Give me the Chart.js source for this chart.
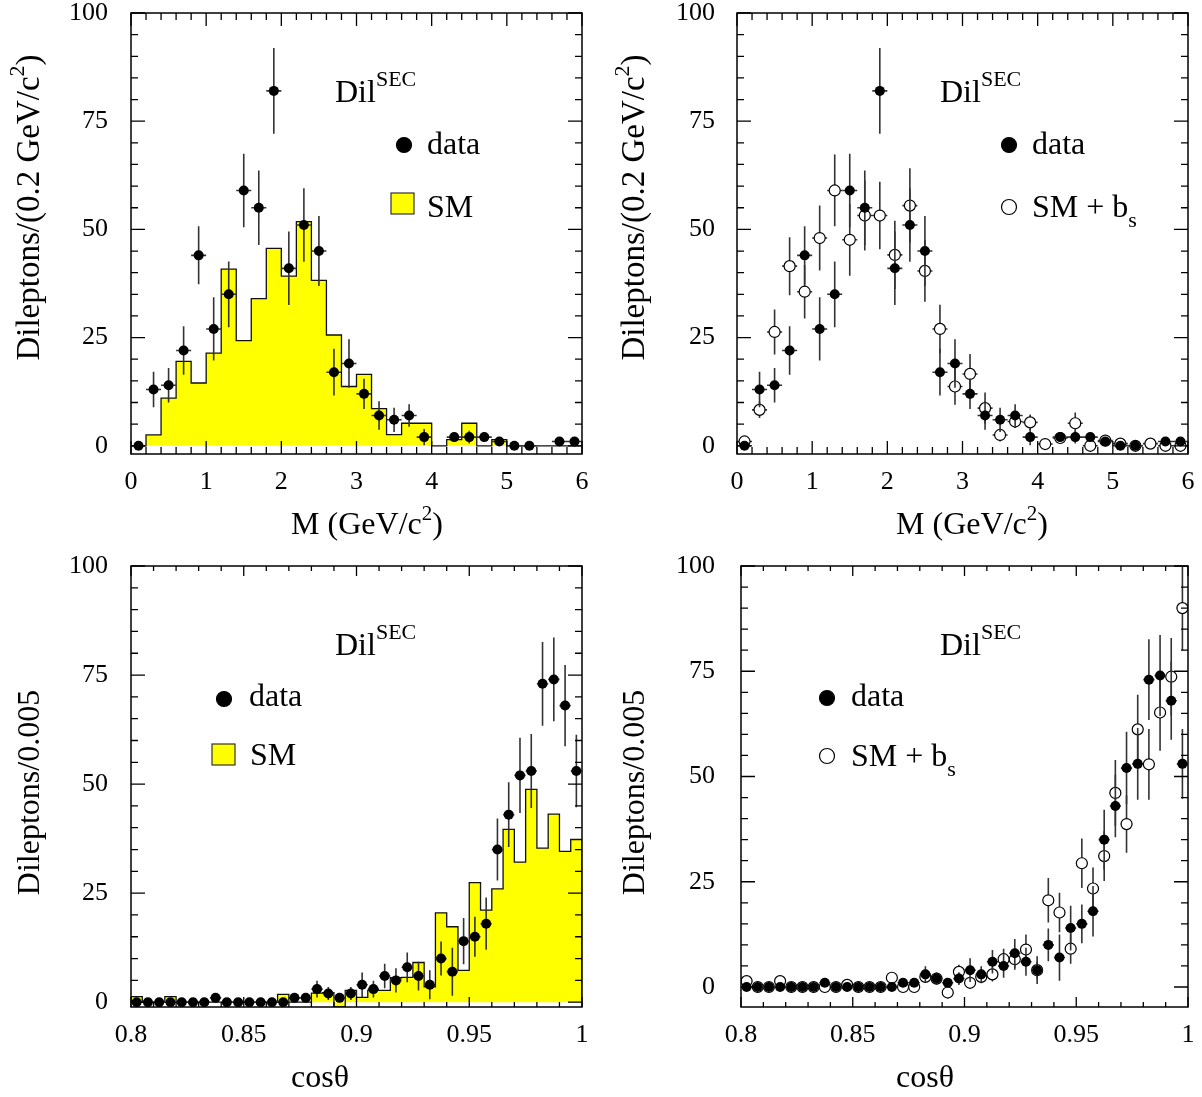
<!DOCTYPE html>
<html>
<head>
<meta charset="utf-8">
<script src="https://cdn.jsdelivr.net/npm/chart.js@4.4.1/dist/chart.umd.min.js"></script>
<style>
  body { margin: 0; background: #fff; }
  #page { position: relative; width: 1202px; height: 1097px; }
  canvas { position: absolute; }
</style>
</head>
<body>
<div id="page">
  <canvas id="massSM" width="600" height="545" style="left:0;top:0"></canvas>
  <canvas id="massBs" width="602" height="545" style="left:600px;top:0"></canvas>
  <canvas id="cosSM" width="600" height="552" style="left:0;top:545px"></canvas>
  <canvas id="cosBs" width="602" height="552" style="left:600px;top:545px"></canvas>
</div>
<script>
const FONT = '"Liberation Serif", "Times New Roman", serif';

// dilepton invariant mass, 0.2 GeV/c2 bins
const massBins = [0.1, 0.3, 0.5, 0.7, 0.9, 1.1, 1.3, 1.5, 1.7, 1.9, 2.1, 2.3, 2.5, 2.7, 2.9,
                  3.1, 3.3, 3.5, 3.7, 3.9, 4.1, 4.3, 4.5, 4.7, 4.9, 5.1, 5.3, 5.5, 5.7, 5.9];
const massData = [0, 13, 14, 22, 44, 27, 35, 59, 55, 82, 41, 51, 45, 17, 19,
                  12, 7, 6, 7, 2, null, 2, 2, 2, 1, 0, 0, null, 1, 1];
const massDataErr = [1, 4.1, 4.0, 5.6, 6.7, 7.3, 7.6, 8.5, 8.6, 9.9, 8.5, 8.5, 8.1, 5.4, 5.6,
                     3.5, 3.3, 2.8, 2.6, 1.9, 0, 1.0, 1.5, 1.0, 0.8, 0, 0, 0, 0.5, 0.5];
const massSM = [0, 2.5, 11, 19.5, 14.5, 21.4, 40.8, 24.3, 34, 45.6, 39.2, 51.8, 38.2, 25.6, 13.7,
                16.5, 8.6, 2.6, 5.2, 5.2, 0, 1.4, 5.2, 0, 1.4, 0, 0, 0, 0, 0];
const massSMbs = [1, 8.3, 26.3, 41.5, 35.6, 48, 59, 47.6, 53.2, 53.2, 44.1, 55.5, 40.4, 27, 13.7,
                  16.6, 8.7, 2.5, 5.6, 5.4, 0.4, 1.8, 5.2, 0, 1.2, 0.5, 0, 0.5, 0, 0];
const massSMbsErr = [0.8, 1.9, 5.2, 6.7, 6.2, 7.5, 8.3, 8.3, 8.1, 7.8, 7.9, 8.6, 7.1, 5.6, 4.2,
                     4.6, 3.6, 1.5, 1.5, 1.8, 0.3, 0.8, 2.5, 0, 0.6, 0.4, 0, 0.4, 0, 0];

// cos(theta), 0.005 bins
const cosBins = [0.8025, 0.8075, 0.8125, 0.8175, 0.8225, 0.8275, 0.8325, 0.8375, 0.8425, 0.8475,
                 0.8525, 0.8575, 0.8625, 0.8675, 0.8725, 0.8775, 0.8825, 0.8875, 0.8925, 0.8975,
                 0.9025, 0.9075, 0.9125, 0.9175, 0.9225, 0.9275, 0.9325, 0.9375, 0.9425, 0.9475,
                 0.9525, 0.9575, 0.9625, 0.9675, 0.9725, 0.9775, 0.9825, 0.9875, 0.9925, 0.9975];
const cosData = [0, 0, 0, 0, 0, 0, 0, 1, 0, 0, 0, 0, 0, 0, 1, 1, 3, 2, 1, 2,
                 4, 3, 6, 5, 8, 6, 4, 10, 7, 14, 15, 18, 35, 43, 52, 53, 73, 74, 68, 53];
const cosDataErr = [0, 0, 0, 0, 0, 0, 0, 1, 0, 0, 0, 0, 0, 0, 1, 1, 1.9, 1.5, 1, 1.5,
                    2.8, 1.9, 2.8, 2.8, 3.4, 3.3, 3.3, 3.9, 5.5, 5.3, 4.6, 6, 7.1, 7.4, 8.6, 8.5, 9.6, 9.6, 9.3, 8.3];
const cosSM = [1.3, 0, 0, 1.3, 0, 0, 0, 0, 0, 0, 0, 0, 0, 1.8, 0, 0, 2.1, 2.2, -1.1, 2.7,
               1.1, 2.7, 2.7, 5.6, 5.7, 9.1, 3.5, 20.5, 17.3, 7.3, 27.4, 21.1, 26, 39.6, 32.1, 48.8, 35.3, 43.1, 34.6, 37.3];
const cosSMbs = [1.4, 0, 0, 1.4, 0, 0, 0, 0, 0, 0.5, 0, 0, 0, 2.2, 0, 0, 2.4, 2, -1.3, 3.6,
                 1, 2.4, 3, 6.6, 6.6, 8.9, 4, 20.6, 17.7, 9.1, 29.4, 23.4, 31.1, 46.1, 38.7, 61.2, 52.9, 65.2, 73.7, 90];
const cosSMbsErr = [0.8, 0, 0, 0.8, 0, 0, 0, 0, 0, 0.4, 0, 0, 0, 1.2, 0, 0, 1.4, 1.3, 1.5, 1.7,
                    1, 1.5, 1.7, 2.5, 2.5, 3.6, 2, 5.3, 4.7, 3.6, 5.9, 5, 5.9, 7.8, 6.8, 8.2, 8.4, 9.1, 9.2, 10];

const massTicks = [0, 1, 2, 3, 4, 5, 6];
const cosTicks = [0.8, 0.85, 0.9, 0.95, 1];
const countTicks = [0, 25, 50, 75, 100];

function points(bins, values) {
  return bins.map((x, i) => ({ x: x, y: values[i] }));
}

// outline of a histogram as step points on the bin edges
function histSteps(bins, values) {
  const hw = (bins[1] - bins[0]) / 2;
  const last = bins.length - 1;
  const pts = [{ x: bins[0] - hw, y: 0 }];
  bins.forEach((x, i) => pts.push({ x: x - hw, y: values[i] }));
  pts.push({ x: bins[last] + hw, y: values[last] });
  pts.push({ x: bins[last] + hw, y: 0 });
  return pts;
}

function histDataset(bins, values) {
  return {
    type: 'line', data: histSteps(bins, values), stepped: 'before',
    fill: 'origin', backgroundColor: '#ffff00', borderColor: '#111', borderWidth: 1.3,
    pointRadius: 0, order: 3
  };
}

function dotDataset(bins, values, errors) {
  return {
    data: points(bins, values), errors: errors, halfWidth: (bins[1] - bins[0]) / 2,
    pointRadius: 5, pointBackgroundColor: '#000', pointBorderColor: '#000', pointBorderWidth: 0, order: 0
  };
}

function ringDataset(bins, values, errors) {
  return {
    data: points(bins, values), errors: errors, halfWidth: (bins[1] - bins[0]) / 2,
    pointRadius: 5.5, pointBackgroundColor: '#fff', pointBorderColor: '#000', pointBorderWidth: 1.2, order: 1
  };
}

// text made of pieces: [text, size, dy]
function richText(ctx, parts, x, y, align) {
  let w = 0;
  parts.forEach(p => { ctx.font = p[1] + 'px ' + FONT; w += ctx.measureText(p[0]).width; });
  let cx = align === 'center' ? x - w / 2 : x;
  ctx.textAlign = 'left';
  ctx.textBaseline = 'alphabetic';
  ctx.fillStyle = '#000';
  parts.forEach(p => {
    ctx.font = p[1] + 'px ' + FONT;
    ctx.fillText(p[0], cx, y + (p[2] || 0));
    cx += ctx.measureText(p[0]).width;
  });
}

function drawTicks(ctx, a, scale, first, last, step, majors, lens) {
  const n = Math.round((last - first) / step);
  ctx.beginPath();
  for (let k = 0; k <= n; k++) {
    const v = first + k * step;
    const len = majors.some(m => Math.abs(m - v) < step / 10) ? lens[0] : lens[1];
    const p = scale.getPixelForValue(v);
    if (scale.axis === 'x') {
      ctx.moveTo(p, a.bottom); ctx.lineTo(p, a.bottom - len);
      ctx.moveTo(p, a.top); ctx.lineTo(p, a.top + len);
    } else {
      ctx.moveTo(a.left, p); ctx.lineTo(a.left + len, p);
      ctx.moveTo(a.right, p); ctx.lineTo(a.right - len, p);
    }
  }
  ctx.stroke();
}

function decorations(cfg) {
  return {
    id: 'decorations',
    beforeDatasetDraw(chart, args) {
      const ds = chart.data.datasets[args.index];
      if (!ds.errors) return;
      const { ctx, chartArea: a, scales: { x, y } } = chart;
      ctx.save();
      ctx.beginPath();
      ctx.rect(a.left, a.top, a.width, a.height);
      ctx.clip();
      ctx.strokeStyle = '#333';
      ctx.lineWidth = 1.6;
      ctx.beginPath();
      ds.data.forEach((p, i) => {
        if (p.y === null) return;
        const px = x.getPixelForValue(p.x), py = y.getPixelForValue(p.y);
        const e = ds.errors[i];
        if (e > 0) {
          ctx.moveTo(px, y.getPixelForValue(p.y - e));
          ctx.lineTo(px, y.getPixelForValue(p.y + e));
        }
        ctx.moveTo(x.getPixelForValue(p.x - ds.halfWidth), py);
        ctx.lineTo(x.getPixelForValue(p.x + ds.halfWidth), py);
      });
      ctx.stroke();
      ctx.restore();
    },
    afterDraw(chart) {
      const { ctx, chartArea: a, scales: { x, y } } = chart;
      ctx.save();
      ctx.strokeStyle = '#000';
      ctx.lineWidth = 1.3;
      drawTicks(ctx, a, x, cfg.xTicks[0], cfg.xTicks[cfg.xTicks.length - 1], cfg.xMinor, cfg.xTicks, cfg.xLens);
      drawTicks(ctx, a, y, countTicks[0], countTicks[countTicks.length - 1], 5, countTicks, [14, 7]);
      ctx.lineWidth = 1.5;
      ctx.strokeRect(a.left, a.top, a.width, a.height);

      // axis titles
      ctx.save();
      ctx.translate(a.left + cfg.yTitleAt[0], a.top + cfg.yTitleAt[1]);
      ctx.rotate(-Math.PI / 2);
      richText(ctx, cfg.yTitle, 0, 0, 'center');
      ctx.restore();
      richText(ctx, cfg.xTitle, a.left + cfg.xTitleAt[0], a.bottom + cfg.xTitleAt[1], 'center');

      // sample label and legend
      richText(ctx, [['Dil', 32], ['SEC', 22, -16]], a.left + cfg.labelAt[0], a.top + cfg.labelAt[1], 'left');
      cfg.legend.forEach(item => {
        const mx = a.left + item.mark[0], my = a.top + item.mark[1];
        ctx.lineWidth = 1.2;
        if (item.kind === 'box') {
          ctx.fillStyle = '#ffff00';
          ctx.fillRect(mx, my, 23, 21);
          ctx.strokeStyle = '#333';
          ctx.strokeRect(mx, my, 23, 21);
        } else {
          ctx.beginPath();
          ctx.arc(mx, my, 7.5, 0, Math.PI * 2);
          ctx.fillStyle = item.kind === 'dot' ? '#000' : '#fff';
          ctx.fill();
          ctx.strokeStyle = '#000';
          ctx.stroke();
        }
        richText(ctx, item.text, a.left + item.textAt[0], a.top + item.textAt[1], 'left');
      });
      ctx.restore();
    }
  };
}

function makePanel(id, p) {
  new Chart(document.getElementById(id), {
    type: 'scatter',
    data: { datasets: p.datasets },
    options: {
      responsive: false,
      animation: false,
      layout: { padding: { left: 0, top: p.top, right: p.right, bottom: 0 } },
      plugins: { legend: { display: false }, tooltip: { enabled: false } },
      scales: {
        x: {
          type: 'linear', min: p.deco.xTicks[0], max: p.deco.xTicks[p.deco.xTicks.length - 1],
          grid: { display: false, drawTicks: false }, border: { display: false },
          ticks: { font: { family: FONT, size: 26 }, color: '#000', padding: 13,
                   autoSkip: false, maxRotation: 0, callback: v => String(v) },
          afterBuildTicks: s => { s.ticks = p.deco.xTicks.map(v => ({ value: v })); },
          afterFit: s => { s.height = p.xHeight; s.paddingLeft = 0; s.paddingRight = 0; }
        },
        y: {
          type: 'linear', min: p.yMin, max: 100,
          grid: { display: false, drawTicks: false }, border: { display: false },
          ticks: { font: { family: FONT, size: 26 }, color: '#000', padding: p.yPad,
                   autoSkip: false, callback: v => String(v) },
          afterBuildTicks: s => { s.ticks = countTicks.map(v => ({ value: v })); },
          afterFit: s => { s.width = p.yWidth; s.paddingTop = 0; s.paddingBottom = 0; }
        }
      }
    },
    plugins: [decorations(p.deco)]
  });
}

const massTitle = [['M (GeV/c', 32], ['2', 21, -14], [')', 32]];
const massYTitle = [['Dileptons/(0.2 GeV/c', 33], ['2', 22, -15], [')', 33]];
const cosTitle = [['cos\u03b8', 32]];
const cosYTitle = [['Dileptons/0.005', 32]];

makePanel('massSM', {
  top: 13, right: 18, xHeight: 91, yWidth: 131, yPad: 23, yMin: -1.9,
  datasets: [histDataset(massBins, massSM), dotDataset(massBins, massData, massDataErr)],
  deco: {
    xTicks: massTicks, xMinor: 0.2, xLens: [13, 7],
    yTitle: massYTitle, yTitleAt: [-92, 194.5], xTitle: massTitle, xTitleAt: [236, 80],
    labelAt: [204, 89],
    legend: [
      { kind: 'dot', mark: [273, 132], text: [['data', 32]], textAt: [296, 141] },
      { kind: 'box', mark: [260, 180], text: [['SM', 32]], textAt: [296, 204] }
    ]
  }
});

makePanel('massBs', {
  top: 13, right: 14, xHeight: 91, yWidth: 137, yPad: 22, yMin: -1.9,
  datasets: [ringDataset(massBins, massSMbs, massSMbsErr), dotDataset(massBins, massData, massDataErr)],
  deco: {
    xTicks: massTicks, xMinor: 0.2, xLens: [13, 7],
    yTitle: massYTitle, yTitleAt: [-93, 194.5], xTitle: massTitle, xTitleAt: [235, 80],
    labelAt: [203, 89],
    legend: [
      { kind: 'dot', mark: [272, 132], text: [['data', 32]], textAt: [295, 141] },
      { kind: 'ring', mark: [272, 194], text: [['SM + b', 32], ['s', 22, 10]], textAt: [295, 204] }
    ]
  }
});

makePanel('cosSM', {
  top: 21, right: 18, xHeight: 90, yWidth: 131, yPad: 23, yMin: -1.1,
  datasets: [histDataset(cosBins, cosSM), dotDataset(cosBins, cosData, cosDataErr)],
  deco: {
    xTicks: cosTicks, xMinor: 0.01, xLens: [10, 5],
    yTitle: cosYTitle, yTitleAt: [-92, 226.5], xTitle: cosTitle, xTitleAt: [189, 80],
    labelAt: [204, 89],
    legend: [
      { kind: 'dot', mark: [93, 133], text: [['data', 32]], textAt: [118, 140] },
      { kind: 'box', mark: [81, 178], text: [['SM', 32]], textAt: [119, 199] }
    ]
  }
});

makePanel('cosBs', {
  top: 21, right: 14, xHeight: 90, yWidth: 141, yPad: 26, yMin: -4.75,
  datasets: [ringDataset(cosBins, cosSMbs, cosSMbsErr), dotDataset(cosBins, cosData, cosDataErr)],
  deco: {
    xTicks: cosTicks, xMinor: 0.01, xLens: [10, 5],
    yTitle: cosYTitle, yTitleAt: [-97, 226.5], xTitle: cosTitle, xTitleAt: [184, 80],
    labelAt: [199, 89],
    legend: [
      { kind: 'dot', mark: [86, 132], text: [['data', 32]], textAt: [110, 140] },
      { kind: 'ring', mark: [86, 190], text: [['SM + b', 32], ['s', 22, 10]], textAt: [110, 200] }
    ]
  }
});
</script>
</body>
</html>
